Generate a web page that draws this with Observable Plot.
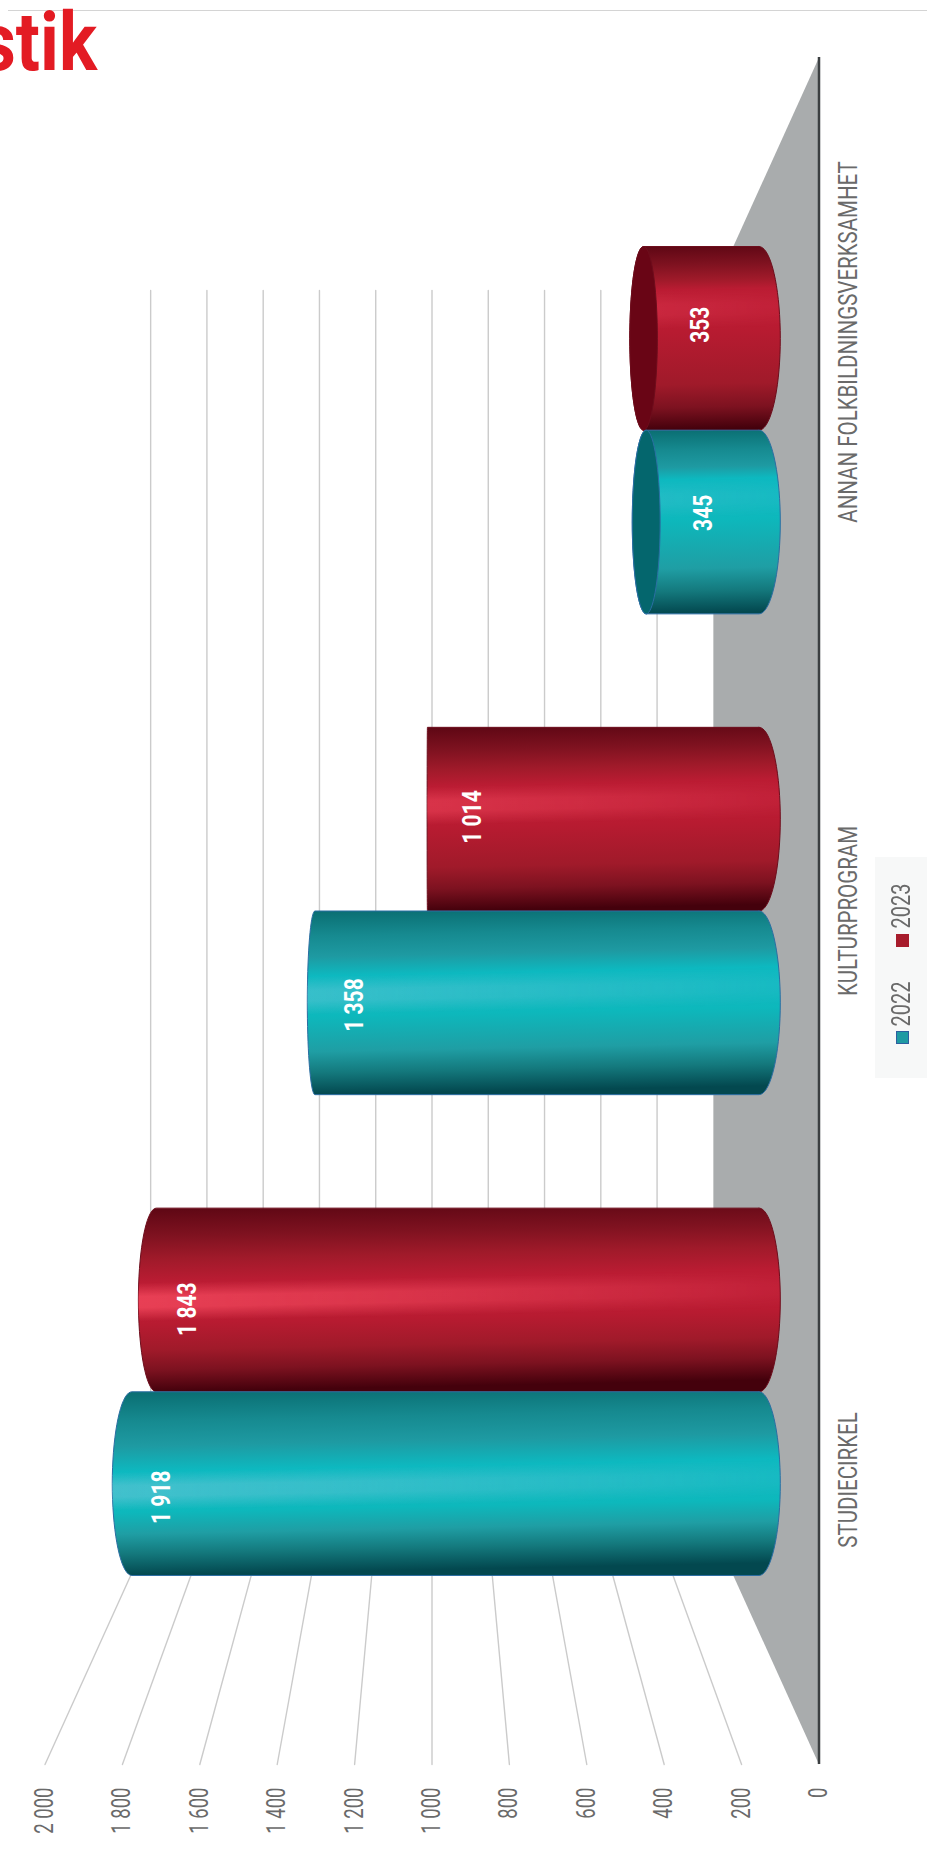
<!DOCTYPE html>
<html><head><meta charset="utf-8">
<script src="https://cdn.jsdelivr.net/npm/d3@7"></script>
<script src="https://cdn.jsdelivr.net/npm/@observablehq/plot@0.6"></script>
<style>
html,body{margin:0;padding:0;background:#fff;width:927px;height:1871px;overflow:hidden;font-family:Roboto,sans-serif}
#chart{position:absolute;left:0;top:0}
#rule{position:absolute;left:8px;right:0;top:10px;height:1px;background:#d4d4d4}
#title{position:absolute;left:0;top:0;overflow:hidden}
#legend{position:absolute;left:875px;top:857px;width:52px;height:221px;background:#f7f8f8}
#legend i{position:absolute;width:13px;height:13px;left:21px;box-sizing:border-box}
#legend span{position:absolute;font:400 25px Roboto,sans-serif;color:#6a6a6a;left:14px;writing-mode:vertical-rl;transform:rotate(180deg) scaleY(.8);line-height:25px;}
</style></head><body>
<div id="chart"></div>
<div id="rule"></div>
<svg id="title" width="200" height="90"><text transform="translate(97,70) scale(.87,1)" text-anchor="end" fill="#e31b23" font-family="Roboto" font-weight="700" font-size="82">stik</text></svg>
<div id="legend">
  <span style="top:21px">2023</span><i style="top:77px;background:#a71c2c"></i>
  <span style="top:119px">2022</span><i style="top:174px;background:#1f9aa3;border:1px solid #2d5fa0"></i>
</div>
<script>
const categories = ["STUDIECIRKEL", "KULTURPROGRAM", "ANNAN FOLKBILDNINGSVERKSAMHET"];
const values2022 = [1918, 1358, 345];
const values2023 = [1843, 1014, 353];
const tickValues = [0, 200, 400, 600, 800, 1000, 1200, 1400, 1600, 1800, 2000];

const fmt = d3.formatLocale({thousands: "\u00a0", grouping: [3], decimal: ","}).format(",");

// perspective: the vanishing point sits at value 1000 / slot 1.5
const u = (v, s) => 1000 + (v - 1000) * s;
const q = (p, s) => 1.5 + (p - 1.5) * s;
const sFront = 1, sBack = 0.727, sCyl = 0.845, dS = 0.055, radius = 0.191;

const angles = d3.range(-90, 91, 5).map(d => d * Math.PI / 180);
const ring = (v, pc, sgn) => angles.map(a => ({
  x: u(v, sCyl + dS * Math.cos(a) * sgn),
  y: q(pc + radius * Math.sin(a), sCyl)
}));

const palettes = {
  2022: {stops: ["#0a6e72", "#168a90", "#1e9aa2", "#0db9c0", "#14bac2", "#0db8bc", "#1f9ea4", "#14797d", "#03484f"], stroke: "#2b6ea3", cap: "#04666d", glow: "#6ac6d6", glowA: .55},
  2023: {stops: ["#5e0714", "#7f1220", "#a01a2a", "#bb1c33", "#be1e36", "#b81b31", "#a01a2a", "#7d1220", "#44010c"], stroke: "#6d0d1c", cap: "#690515", glow: "#ff5266", glowA: .68}
};

const cylinders = [];
categories.forEach((c, i) => {
  const slot = i + 0.5;
  cylinders.push({year: 2023, value: values2023[i], pc: slot + radius, key: `r${i}`});
  cylinders.push({year: 2022, value: values2022[i], pc: slot - radius, key: `t${i}`});
});

const gradients = (index, scales) => {
  const defs = d3.create("svg:defs");
  const tilt = 0.02;
  for (const c of cylinders) {
    const yTop = scales.y(q(c.pc + radius, sCyl));
    const yBot = scales.y(q(c.pc - radius, sCyl));
    const H = yBot - yTop;
    const xE = scales.x(u(c.value, sCyl));
    const h = 0.34 + ((yTop + yBot) / 2 - 335) * 0.00017;
    const pal = palettes[c.year];
    const offs = [0, h * 0.3, h * 0.55, h - 0.1, h, h + 0.12, 0.72 + h * 0.1, 0.88, 1];
    const mk = id => defs.append("linearGradient").attr("id", id).attr("gradientUnits", "userSpaceOnUse")
      .attr("x1", xE).attr("y1", yTop).attr("x2", xE + tilt * H).attr("y2", yTop + H);
    const g = mk("g" + c.key);
    offs.forEach((o, k) => g.append("stop").attr("offset", o).attr("stop-color", pal.stops[k]));
    const l = mk("l" + c.key);
    [[h - 0.1, 0], [h - 0.025, pal.glowA], [h + 0.035, pal.glowA], [h + 0.11, 0]].forEach(([o, a]) =>
      l.append("stop").attr("offset", o).attr("stop-color", pal.glow).attr("stop-opacity", a));
  }
  const f = defs.append("linearGradient").attr("id", "fadeG").attr("gradientUnits", "userSpaceOnUse")
    .attr("x1", 100).attr("y1", 0).attr("x2", 790).attr("y2", 0);
  [[0, "#fff"], [0.4, "#aaa"], [0.75, "#555"], [1, "#111"]].forEach(([o, col]) => f.append("stop").attr("offset", o).attr("stop-color", col));
  const m = defs.append("mask").attr("id", "fade").attr("maskUnits", "userSpaceOnUse")
    .attr("x", 0).attr("y", 0).attr("width", 927).attr("height", 1871);
  m.append("rect").attr("width", 927).attr("height", 1871).attr("fill", "url(#fadeG)");
  return defs.node();
};

const floor = [
  {x: u(0, sFront), y: q(0, sFront)}, {x: u(0, sBack), y: q(0, sBack)},
  {x: u(0, sBack), y: q(3, sBack)}, {x: u(0, sFront), y: q(3, sFront)}
];
const grid = tickValues.slice(1).flatMap(v => [
  {v, x: u(v, sBack), y: q(3, sBack)},
  {v, x: u(v, sBack), y: q(0, sBack)},
  {v, x: u(v, sFront), y: q(0, sFront)}
]);

const cylMarks = cylinders.flatMap(c => {
  const pal = palettes[c.year];
  const base = ring(0, c.pc, 1).reverse();
  const end = ring(c.value, c.pc, c.value > 1000 ? 1 : -1);
  const body = [...base, ...end, base[0]];
  const marks = [
    Plot.line(body, {x: "x", y: "y", fill: `url(#g${c.key})`, stroke: pal.stroke, strokeWidth: 1, curve: "linear"}),
    Plot.line(body, {x: "x", y: "y", fill: `url(#l${c.key})`, stroke: "none"})
  ];
  if (c.value < 1000) {
    const cap = [...ring(c.value, c.pc, 1), ...ring(c.value, c.pc, -1).reverse()];
    marks.push(Plot.line(cap, {x: "x", y: "y", fill: pal.cap, stroke: pal.stroke, strokeWidth: 1}));
  }
  return marks;
});

const textFont = {fontFamily: "Roboto, sans-serif"};

const plot = Plot.plot({
  width: 927, height: 1871,
  marginLeft: 44.5, marginRight: 108.5, marginTop: 57, marginBottom: 107,
  x: {domain: [0, 2000], reverse: true, axis: null},
  y: {domain: [0, 3], axis: null},
  style: {background: "transparent", overflow: "visible"},
  marks: [
    gradients,
    Plot.line(floor, {x: "x", y: "y", fill: "#a9acad", stroke: "none"}),
    Plot.line(grid, {x: "x", y: "y", z: "v", stroke: "#cbcbcb", strokeWidth: 1.4}),
    Plot.ruleX([0], {stroke: "#3b3f41", strokeWidth: 2.5}),
    ...cylMarks,
    Plot.axisX(tickValues, {
      anchor: "bottom", tickSize: 0, tickPadding: 23, tickRotate: -90, label: null,
      tickFormat: fmt, fontSize: 25, fontWeight: 400, fill: "#6a6a6a", ...textFont
    }),
    Plot.text(categories, {
      x: () => 0, y: (d, i) => i + 0.5, text: d => d, rotate: -90, dx: 30,
      fontSize: 25, fontWeight: 400, fill: "#6a6a6a", ...textFont
    }),
    Plot.text(cylinders, {
      x: d => u(d.value, 0.89), y: d => q(d.pc, 0.865), text: d => fmt(d.value), rotate: -90, dx: 46,
      fontSize: 25, fontWeight: 700, fill: "#fff", ...textFont
    })
  ]
});
document.getElementById("chart").append(plot);

plot.querySelectorAll('g[fill^="url(#l"]').forEach(g => g.setAttribute("mask", "url(#fade)"));
const squeeze = (texts, f) => texts.forEach(t => {
  const n = t.getComputedTextLength();
  t.setAttribute("textLength", n * f);
  t.setAttribute("lengthAdjust", "spacingAndGlyphs");
});
const allTexts = [...plot.querySelectorAll("text")];
squeeze(allTexts.filter(t => tickValues.map(fmt).includes(t.textContent)), 0.74);
squeeze(allTexts.filter(t => categories.includes(t.textContent)), 0.82);
squeeze(allTexts.filter(t => [...values2022, ...values2023].map(fmt).includes(t.textContent)), 0.84);
</script>
</body></html>
